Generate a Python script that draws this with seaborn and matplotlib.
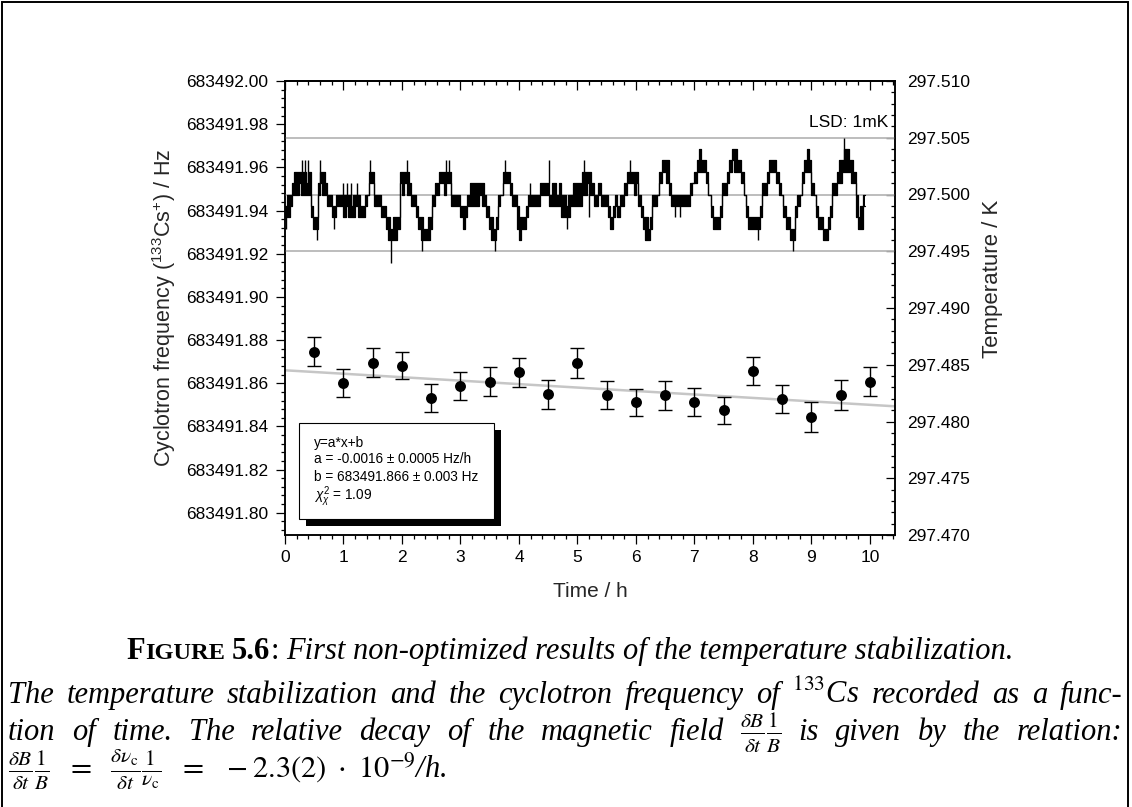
import numpy as np
import pandas as pd
import matplotlib
matplotlib.use("Agg")
import matplotlib.pyplot as plt
import seaborn as sns
from matplotlib.ticker import MultipleLocator, FormatStrFormatter
from matplotlib.patches import Rectangle

# ---------------- data ----------------
TIME_H = [0.5, 1.0, 1.5, 2.0, 2.5, 3.0, 3.5, 4.0, 4.5, 5.0,
          5.5, 6.0, 6.5, 7.0, 7.5, 8.0, 8.5, 9.0, 9.5, 10.0]
FREQ_HZ = [683491.8747, 683491.8601, 683491.8696, 683491.8682, 683491.8532,
           683491.8588, 683491.8608, 683491.8650, 683491.8548, 683491.8693,
           683491.8546, 683491.8512, 683491.8544, 683491.8515, 683491.8475,
           683491.8656, 683491.8528, 683491.8443, 683491.8545, 683491.8608]
FREQ_ERR_HZ = [0.0067, 0.0065, 0.0065, 0.0064, 0.0065, 0.0066, 0.0068, 0.0066, 0.0069, 0.0068,
               0.0066, 0.0063, 0.0067, 0.0065, 0.0063, 0.0066, 0.0066, 0.0068, 0.0070, 0.0065]
FIT_SLOPE = -0.0016        # Hz/h
FIT_INTERCEPT = 683491.866  # Hz

# temperature record (deviation from 297.500 K in mK): lowest / highest reading
# within each 0.04 h interval, one row per hour
TEMP_BASE_K = 297.500
TEMP_BIN_H = 0.04
TEMP_LO_MK = [
    -2, -2, -1, 0, 0, 0, 1, 0, 0, 0, 0, -2, -3, -3, 0, 1, 0, 0, -1, -1, -2, -2, -1, -1, -1,
    -2, -1, -2, -2, -2, -1, -2, -2, -2, -1, 0, 1, 1, -1, -1, -1, -2, -2, -3, -4, -4, -4, -4, -3, 1,
    0, 1, 0, 0, -1, -1, -2, -3, -4, -4, -4, -4, -3, -1, 0, 0, 1, 1, 0, 1, 1, -1, -1, -1, -1,
    -2, -3, -2, -1, -1, -1, -1, -1, 0, -1, -1, -2, -3, -4, -4, -3, -1, 0, 1, 1, 1, 0, -1, -1, -3,
    -4, -3, -3, -2, -1, -1, -1, -1, -1, 0, 0, 0, 0, -1, -1, -1, -1, -1, -2, -2, -2, -2, -1, -1, -1,
    -1, -1, 0, 0, 1, 0, 0, -1, -1, 0, -1, -1, -1, -2, -3, -2, -1, -2, -1, -1, 0, 1, 1, 1, 0,
    1, -1, -2, -3, -4, -4, -3, -1, -1, 0, 1, 2, 2, 1, 0, -1, -1, -1, -1, -1, -1, -1, -1, 0, 1,
    1, 2, 2, 2, 2, 1, 0, -2, -3, -3, -3, -2, 0, 0, 1, 2, 3, 2, 2, 2, 1, 0, -2, -3, -3,
    -3, -3, -3, -2, 0, 0, 1, 2, 2, 2, 1, 0, 0, -2, -3, -3, -4, -4, -2, -1, 0, 1, 2, 2, 2,
    0, 0, -2, -3, -3, -4, -4, -3, -2, 0, 0, 1, 1, 2, 2, 2, 2, 1, 1, -2, -3, -3, -1]
TEMP_HI_MK = [
    -1, 0, 0, 1, 2, 2, 2, 2, 2, 1, 2, -1, -2, -2, 1, 2, 2, 1, 0, 0, -1, -1, 0, 0, 0,
    0, 0, 0, -1, 0, 0, 0, -1, -1, 0, 0, 2, 2, 0, 0, 0, -1, -1, -2, -2, -3, -2, -2, -2, 2,
    2, 2, 2, 1, 0, 0, -1, -2, -2, -3, -3, -2, -2, 0, 1, 1, 2, 2, 2, 2, 2, 0, 0, 0, 0,
    -1, -1, -1, 0, 1, 1, 1, 1, 1, 1, 0, -1, -2, -2, -3, -2, 0, 0, 2, 2, 2, 1, 0, 0, -1,
    -2, -2, -2, -1, 0, 0, 0, 0, 0, 1, 1, 1, 1, 0, 1, 1, 0, 1, 0, 0, -1, 0, 0, 1, 1,
    1, 1, 2, 2, 2, 2, 1, 0, 0, 1, 0, 0, 0, -1, -2, -1, 0, -1, 0, 0, 1, 2, 2, 2, 2,
    2, 0, -1, -2, -2, -3, -2, 0, 0, 0, 2, 3, 3, 3, 1, 0, 0, 0, 0, 0, 0, 0, 0, 1, 1,
    2, 3, 4, 3, 3, 2, 0, -1, -2, -2, -2, -1, 1, 1, 2, 3, 4, 4, 3, 3, 2, 0, -1, -2, -2,
    -2, -2, -2, -1, 1, 1, 2, 3, 3, 3, 2, 1, 0, -1, -2, -2, -3, -3, -1, 0, 0, 2, 3, 4, 3,
    1, 0, -1, -2, -2, -3, -3, -2, -1, 1, 1, 2, 3, 3, 4, 4, 3, 3, 2, 0, -2, -1, 0]
# short isolated excursions of the record (time in h, level in mK)
TEMP_SPIKE_T_H = [0.023, 0.296, 0.336, 0.392, 0.552, 0.592, 0.832, 0.992,
                  1.064, 1.132, 1.232, 1.460, 1.816, 2.084, 2.348, 2.756, 2.800,
                  3.584, 3.756, 4.184, 4.508, 4.816, 5.120, 5.200, 5.892,
                  6.660, 6.748, 8.084, 8.684, 9.556]
TEMP_SPIKE_MK = [-3, 3, 3, 3, -4, 3, -3, 1,
                 1, 1, 1, 3, -6, 3, -5, 3, 3,
                 -5, 3, 1, 3, -3, 3, -2, 3,
                 -2, -2, -4, -5, 5]
TEMP_LEVELS_K = [297.495, 297.500, 297.505]

FIT_TEXT = ["y=a*x+b",
            "a = -0.0016 \u00b1 0.0005 Hz/h",
            "b = 683491.866 \u00b1 0.003 Hz",
            r"$\chi^2_{\chi}$ = 1.09"]
LSD_TEXT = "LSD: 1mK"
X_LABEL = "Time / h"
Y_LABEL = r"Cyclotron frequency ($^{133}$Cs$^{+}$) / Hz"
Y2_LABEL = "Temperature / K"

CAP_TITLE = "First non-optimized results of the temperature stabilization."
CAP_LINE2 = r"The temperature stabilization and the cyclotron frequency of $^{133}$Cs recorded as a func-"
CAP_LINE3 = ["tion", "of", "time.", "The", "relative", "decay", "of", "the", "magnetic", "field",
             r"$\frac{\delta B}{\delta t}\frac{1}{B}$", "is", "given", "by", "the", "relation:"]
CAP_LINE4 = (r"$\frac{\delta B}{\delta t}\frac{1}{B}\ \ =\ \ \frac{\delta\nu_{\mathrm{c}}}{\delta t}"
             r"\frac{1}{\nu_{\mathrm{c}}}\ \ =\ \ -2.3(2)\ \cdot\ 10^{-9}$/h.")

# ---------------- style ----------------
sns.set_theme(style="ticks")
plt.rcParams["font.family"] = ["Liberation Sans", "DejaVu Sans"]
plt.rcParams["mathtext.fontset"] = "custom"
plt.rcParams["mathtext.rm"] = "Liberation Sans"
plt.rcParams["mathtext.it"] = "Liberation Sans:italic"
plt.rcParams["mathtext.bf"] = "Liberation Sans:bold"
plt.rcParams["axes.linewidth"] = 1.1
plt.rcParams["axes.edgecolor"] = "black"
plt.rcParams["text.color"] = "black"
plt.rcParams["xtick.color"] = "black"
plt.rcParams["ytick.color"] = "black"

W, H = 1132, 807
fig = plt.figure(figsize=(W / 100, H / 100), dpi=100)
fig.patch.set_facecolor("white")

AX_L, AX_R, AX_T, AX_B = 285, 895, 81, 535
ax = fig.add_axes([AX_L / W, 1 - AX_B / H, (AX_R - AX_L) / W, (AX_B - AX_T) / H])
ax.set_facecolor("white")
ax2 = ax.twinx()

# ---------------- frequency data ----------------
freq = pd.DataFrame({"t": TIME_H, "f": FREQ_HZ, "e": FREQ_ERR_HZ})
ax.set_xlim(0, 10.43)
ax.set_ylim(683491.7897, 683492.0)
xs = np.array(ax.get_xlim())
sns.lineplot(x=xs, y=FIT_INTERCEPT + FIT_SLOPE * xs, ax=ax, color="#c6c6c6", lw=1.8,
             zorder=2, legend=False)
ax.errorbar(freq["t"], freq["f"], yerr=freq["e"], fmt="none", ecolor="black",
            elinewidth=1.0, capsize=5.2, capthick=1.0, zorder=3)
sns.scatterplot(data=freq, x="t", y="f", ax=ax, color="black", s=62, edgecolor="black",
                linewidth=0, zorder=4, legend=False)

# ---------------- temperature data ----------------
lo = np.array(TEMP_LO_MK, dtype=float)
hi = np.array(TEMP_HI_MK, dtype=float)
n = len(lo)
t_edges = np.arange(n + 1) * TEMP_BIN_H
lo_k = TEMP_BASE_K + np.append(lo, lo[-1]) * 0.001
hi_k = TEMP_BASE_K + np.append(hi, hi[-1]) * 0.001
for lv in TEMP_LEVELS_K:
    ax2.axhline(lv, color="#b8b8b8", lw=1.3, zorder=1)
ax2.fill_between(t_edges, lo_k, hi_k, step="post", color="black", lw=0, zorder=3)
env = pd.DataFrame({"t": np.concatenate([t_edges, t_edges]),
                    "T": np.concatenate([lo_k, hi_k]),
                    "edge": ["lo"] * (n + 1) + ["hi"] * (n + 1)})
sns.lineplot(data=env, x="t", y="T", units="edge", estimator=None, sort=False, ax=ax2,
             color="black", lw=0.9, drawstyle="steps-post", zorder=3, legend=False)
sp_t = np.array(TEMP_SPIKE_T_H)
sp_v = np.array(TEMP_SPIKE_MK, dtype=float)
idx = np.clip((sp_t / TEMP_BIN_H).astype(int), 0, n - 1)
base = np.where(sp_v > 0, hi[idx], lo[idx])
ax2.vlines(sp_t, TEMP_BASE_K + base * 0.001, TEMP_BASE_K + sp_v * 0.001,
           color="black", lw=1.0, zorder=3)
ax2.set_ylim(297.470, 297.510)

# ---------------- axes formatting ----------------
ax.xaxis.set_major_locator(MultipleLocator(1))
ax.xaxis.set_minor_locator(MultipleLocator(0.2))
ax.yaxis.set_major_locator(MultipleLocator(0.02))
ax.yaxis.set_minor_locator(MultipleLocator(0.004))
ax.yaxis.set_major_formatter(FormatStrFormatter("%.2f"))
ax.tick_params(which="major", direction="out", length=6.5, width=0.9, labelsize=12.5)
ax.tick_params(which="minor", direction="out", length=3.2, width=0.9)
ax.tick_params(axis="y", which="major", pad=5.5)
ax.tick_params(axis="x", which="major", pad=4.5)
ax.tick_params(top=False, right=False, which="both")

sec = ax.secondary_xaxis("top")
sec.xaxis.set_major_locator(MultipleLocator(1))
sec.xaxis.set_minor_locator(MultipleLocator(0.2))
sec.tick_params(which="major", direction="in", length=6.5, width=0.9, labeltop=False)
sec.tick_params(which="minor", direction="in", length=3.2, width=0.9)

ax2.yaxis.set_major_locator(MultipleLocator(0.005))
ax2.yaxis.set_minor_locator(MultipleLocator(0.001))
ax2.yaxis.set_major_formatter(FormatStrFormatter("%.3f"))
ax2.tick_params(which="major", direction="in", length=6.5, width=0.9, labelsize=12.5, pad=9.0)
ax2.tick_params(which="minor", direction="in", length=3.2, width=0.9)

for a in (ax, ax2):
    for s in a.spines.values():
        s.set_linewidth(1.1)
        s.set_color("black")

ax.set_xlabel(X_LABEL, fontsize=15)
ax.xaxis.set_label_coords(0.5, -0.104)
ax.set_ylabel(Y_LABEL, fontsize=15.5)
ax.yaxis.set_label_coords(-0.176, 0.5)
ax2.set_ylabel(Y2_LABEL, fontsize=16)
ax2.yaxis.set_label_coords(1.143, 0.565)

ax2.text(0.9885, 0.9075, LSD_TEXT, transform=ax2.transAxes, ha="right", va="center",
         fontsize=12.5)

# ---------------- fit-result box with shadow ----------------
bx0, bx1, by0, by1 = 0.0223, 0.3426, 0.0352, 0.2474
sdx, sdy = 7 / 610, 7 / 454
ax.add_patch(Rectangle((bx0 + sdx, by0 - sdy), bx1 - bx0, by1 - by0, transform=ax.transAxes,
                       facecolor="black", edgecolor="none", zorder=5))
ax.add_patch(Rectangle((bx0, by0), bx1 - bx0, by1 - by0, transform=ax.transAxes,
                       facecolor="white", edgecolor="black", lw=0.8, zorder=6))
for txt, yy in zip(FIT_TEXT, [0.2033, 0.1674, 0.1284, 0.0843]):
    ax.text(0.047, yy, txt, transform=ax.transAxes, ha="left", va="center",
            fontsize=9.8, zorder=7)

# ---------------- outer frame ----------------
fig.add_artist(Rectangle((2 / W, -0.02), (1128 - 2) / W, 1.02 - 2 / H, transform=fig.transFigure,
                         fill=False, edgecolor="black", lw=1.4))

# ---------------- caption ----------------
renderer = fig.canvas.get_renderer()
CF = 22
serif = "Liberation Serif"
ital = dict(family=serif, style="italic", fontsize=CF, math_fontfamily="stix")
rom = dict(family=serif, fontsize=CF, math_fontfamily="stix")
bold = dict(family=serif, weight="bold", fontsize=CF)
bold_sm = dict(family=serif, weight="bold", fontsize=CF * 0.8)


def width_of(txt, kw):
    t = fig.text(0, 0, txt, **kw)
    w = t.get_window_extent(renderer).width
    t.remove()
    return w


def put(x_px, y_px, txt, kw):
    fig.text(x_px / W, 1 - y_px / H, txt, ha="left", va="baseline", **kw)


space = CF * 100 / 72 * 0.25

# line 1 (centered)
pieces = [("F", bold, 0), ("IGURE", bold_sm, 0), ("5.6", bold, space), (":", rom, 0),
          (CAP_TITLE, ital, space)]
widths = [width_of(p[0], p[1]) for p in pieces]
total = sum(widths) + sum(p[2] for p in pieces)
x = 570 - total / 2
for (txt, kw, g), w in zip(pieces, widths):
    x += g
    put(x, 659, txt, kw)
    x += w


def justify(words, y_px, x0, x1, kw):
    ws = [width_of(wd, kw) for wd in words]
    gap = (x1 - x0 - sum(ws)) / (len(words) - 1)
    x = x0
    for wd, w in zip(words, ws):
        put(x, y_px, wd, kw)
        x += w + gap


justify(CAP_LINE2.split(" "), 703, 8, 1122, ital)
justify(CAP_LINE3, 740, 8, 1122, ital)
put(8, 778, CAP_LINE4, ital)

fig.savefig("out.png", dpi=100, facecolor="white")
